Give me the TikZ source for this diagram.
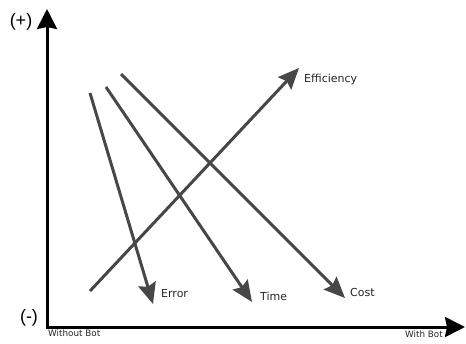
\documentclass[tikz,border=0pt]{standalone}
\usepackage{fontspec}
\setmainfont{DejaVu Sans}
\newfontfamily\signfont{Liberation Sans}
\usetikzlibrary{arrows.meta}
\begin{document}
\begin{tikzpicture}[x=1pt,y=-1pt,
  axisline/.style={line width=3pt,-{Stealth[length=20pt,width=20pt,inset=2pt]}},
  trend/.style={line width=3pt,draw=black!72,-{Stealth[length=21pt,width=18pt,inset=3pt]}},
  lbl/.style={font=\fontsize{11}{13}\selectfont,inner sep=0pt,anchor=west,text=black!85},
  axlbl/.style={font=\fontsize{8.8}{10}\selectfont,inner sep=0pt,text=black!85},
  sign/.style={font=\signfont\fontsize{18}{20}\selectfont,inner sep=0pt}]
\useasboundingbox (0,0) rectangle (466,343);
\coordinate (o) at (47,327);
\coordinate (ytop) at (47,9);
\coordinate (xend) at (465,327);
\draw[axisline] (o) -- (ytop);
\draw[axisline] ([xshift=-1.5pt]o) -- (xend);
\node[sign] (plus) at (21,22) {(+)};
\node[sign] (minus) at (29,318) {(-)};
\node[axlbl,anchor=north west] (wo) at (48,330) {Without Bot};
\node[axlbl,anchor=north east] (wb) at (443,331) {With Bot};
% trends
\coordinate (es) at (90,93);  \coordinate (ee) at (153,304);
\coordinate (ts) at (106,87); \coordinate (te) at (252,302);
\coordinate (cs) at (121,74); \coordinate (ce) at (345,298);
\coordinate (fs) at (90,291); \coordinate (fe) at (299,68);
\draw[trend] (es) -- (ee);
\draw[trend] (ts) -- (te);
\draw[trend] (cs) -- (ce);
\draw[trend] (fs) -- (fe);
\node[lbl] (err) at (161,294) {Error};
\node[lbl] (tim) at (260,296) {Time};
\node[lbl] (cst) at (350,292) {Cost};
\node[lbl] (eff) at (304,79) {Efficiency};
\end{tikzpicture}
\end{document}
